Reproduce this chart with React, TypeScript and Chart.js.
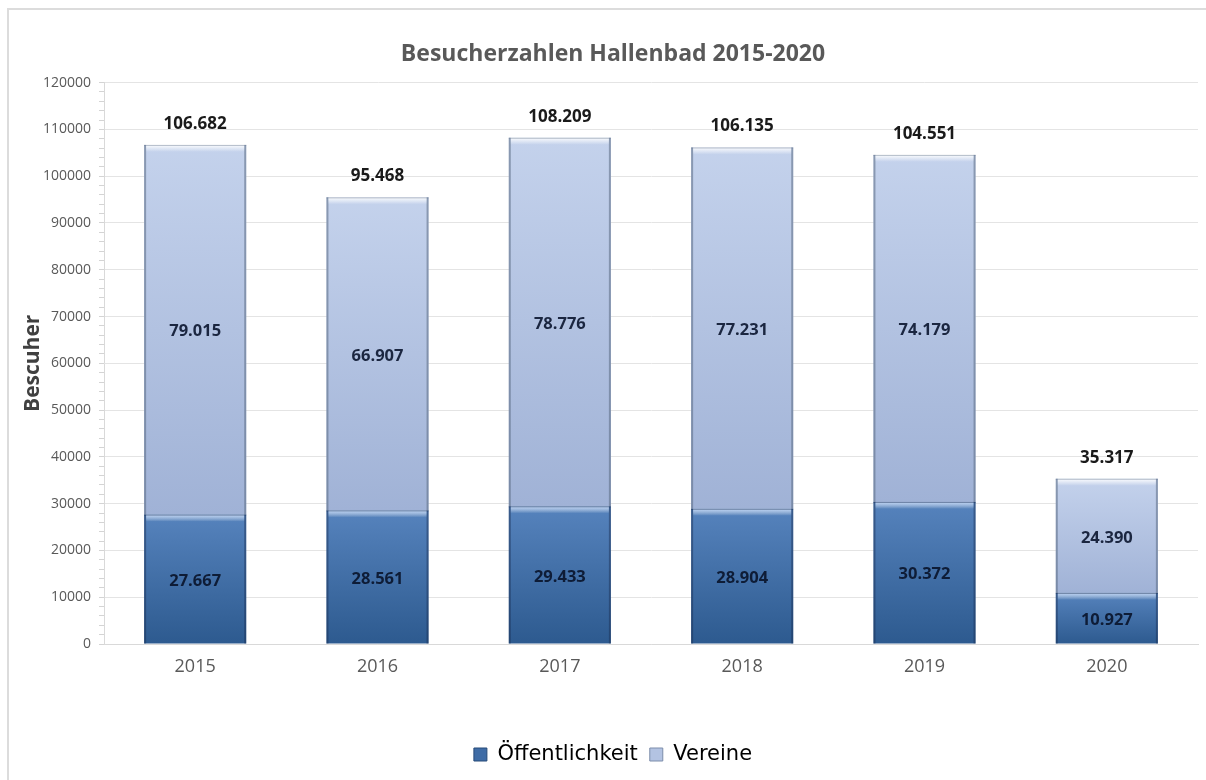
import React, { useEffect, useRef } from 'react';
import { Chart, registerables } from 'chart.js';

Chart.register(...registerables);

const years: string[] = ['2015', '2016', '2017', '2018', '2019', '2020'];
const oeffentlichkeit: number[] = [27667, 28561, 29433, 28904, 30372, 10927];
const vereine: number[] = [79015, 66907, 78776, 77231, 74179, 24390];
const seriesNames: string[] = ['Öffentlichkeit', 'Vereine'];
const chartTitle = 'Besucherzahlen Hallenbad 2015-2020';
const yAxisTitle = 'Bescuher';
const yMin = 0;
const yMax = 120000;
const yMajorStep = 10000;
const yMinorStep = 2000;

const totals: number[] = years.map((_, i) => oeffentlichkeit[i] + vereine[i]);

const FONT = '"Open Sans", "Noto Sans", sans-serif';
const LEGEND_FONT = '"DejaVu Sans", Verdana, sans-serif';

const fmt = (v: number) => String(Math.round(v)).replace(/\B(?=(\d{3})+(?!\d))/g, '.');

const segmentColor = (dsIndex: number) => (ctx: any) => {
  const chart = ctx.chart;
  const y = chart.scales && chart.scales.y;
  const fallback = dsIndex === 0 ? '#3f6ca6' : '#b3c3e2';
  if (!chart.chartArea || !y || ctx.type !== 'data') return fallback;
  const i = ctx.dataIndex;
  const base = dsIndex === 0 ? 0 : oeffentlichkeit[i];
  const top = base + (dsIndex === 0 ? oeffentlichkeit[i] : vereine[i]);
  const y0 = y.getPixelForValue(top);
  const y1 = y.getPixelForValue(base);
  if (!isFinite(y0) || !isFinite(y1) || y0 === y1) return fallback;
  const g = chart.ctx.createLinearGradient(0, y0, 0, y1);
  if (dsIndex === 0) {
    g.addColorStop(0, '#5683bd');
    g.addColorStop(1, '#2d5a8f');
  } else {
    g.addColorStop(0, '#c4d2ec');
    g.addColorStop(1, '#a0b2d6');
  }
  return g;
};

const decorPlugin = {
  id: 'decor',
  afterDatasetsDraw(chart: any) {
    const ctx = chart.ctx as CanvasRenderingContext2D;
    ctx.save();
    // bevel effect
    chart.data.datasets.forEach((_: any, di: number) => {
      const meta = chart.getDatasetMeta(di);
      meta.data.forEach((el: any) => {
        const { x, y, base, width } = el.getProps(['x', 'y', 'base', 'width'], true);
        const left = x - width / 2;
        const h = base - y;
        const edge = di === 0 ? 'rgba(25,45,80,0.45)' : 'rgba(90,105,130,0.55)';
        ctx.fillStyle = edge;
        ctx.fillRect(left, y, 2, h);
        ctx.fillRect(left + width - 2, y, 2, h);
        const hg = ctx.createLinearGradient(0, y, 0, y + 7);
        hg.addColorStop(0, di === 0 ? 'rgba(200,220,250,0.9)' : 'rgba(255,255,255,0.95)');
        hg.addColorStop(1, 'rgba(255,255,255,0)');
        ctx.fillStyle = hg;
        ctx.fillRect(left + 2, y, width - 4, 7);
        ctx.fillStyle = di === 0 ? 'rgba(30,50,85,0.5)' : 'rgba(110,125,150,0.5)';
        ctx.fillRect(left, y, width, 1);
      });
    });
    // segment labels
    ctx.textAlign = 'center';
    ctx.textBaseline = 'middle';
    chart.data.datasets.forEach((ds: any, di: number) => {
      const meta = chart.getDatasetMeta(di);
      meta.data.forEach((el: any, i: number) => {
        const { x, y, base } = el.getProps(['x', 'y', 'base'], true);
        ctx.font = `bold 16.5px ${FONT}`;
        ctx.fillStyle = di === 0 ? '#0e1c36' : '#1b2640';
        ctx.fillText(fmt(ds.data[i]), x, (y + base) / 2 + 2);
      });
    });
    // totals above bars
    const topMeta = chart.getDatasetMeta(chart.data.datasets.length - 1);
    topMeta.data.forEach((el: any, i: number) => {
      const { x, y } = el.getProps(['x', 'y'], true);
      ctx.font = `bold 17px ${FONT}`;
      ctx.fillStyle = '#1a1a1a';
      ctx.fillText(fmt(totals[i]), x, y - 21);
    });
    ctx.restore();
  },
};

export default function App() {
  const ref = useRef<HTMLCanvasElement | null>(null);

  useEffect(() => {
    if (!ref.current) return;
    const chart = new Chart(ref.current, {
      type: 'bar',
      data: {
        labels: years,
        datasets: [
          {
            label: seriesNames[0],
            data: oeffentlichkeit,
            backgroundColor: segmentColor(0),
            borderWidth: 0,
            barPercentage: 0.56,
            categoryPercentage: 1,
          },
          {
            label: seriesNames[1],
            data: vereine,
            backgroundColor: segmentColor(1),
            borderWidth: 0,
            barPercentage: 0.56,
            categoryPercentage: 1,
          },
        ],
      },
      options: {
        animation: false,
        responsive: false,
        maintainAspectRatio: false,
        layout: { padding: { left: 28, right: 8, top: 0, bottom: 5 } },
        plugins: {
          title: {
            display: true,
            text: chartTitle,
            color: '#595959',
            font: { family: FONT, size: 23, weight: 'bold' },
            padding: { top: 41, bottom: 14 },
          },
          legend: {
            position: 'bottom',
            labels: {
              color: '#595959',
              font: { family: LEGEND_FONT, size: 21 },
              boxWidth: 13,
              boxHeight: 13,
              padding: 12,
              generateLabels: () => [
                { text: seriesNames[0], fillStyle: '#3f6ca6', strokeStyle: '#274a78', lineWidth: 1, datasetIndex: 0 },
                { text: seriesNames[1], fillStyle: '#b3c3e2', strokeStyle: '#7d8dab', lineWidth: 1, datasetIndex: 1 },
              ] as any,
            },
          },
          tooltip: { enabled: false },
        },
        scales: {
          x: {
            stacked: true,
            grid: { display: false, drawTicks: false },
            border: { display: true, color: '#d9d9d9', width: 1 },
            ticks: { color: '#595959', font: { family: FONT, size: 18 }, padding: 12 },
            afterFit: (scale: any) => {
              scale.height = 88;
            },
          },
          y: {
            stacked: true,
            min: yMin,
            max: yMax,
            border: { display: true, color: '#d9d9d9', width: 1 },
            grid: {
              color: (c: any) => (c.tick && c.tick.value % yMajorStep === 0 ? '#e4e4e4' : 'rgba(0,0,0,0)'),
              tickColor: '#d4d4d4',
              tickLength: 5,
              drawTicks: true,
            },
            ticks: {
              stepSize: yMinorStep,
              autoSkip: false,
              color: '#595959',
              font: { family: FONT, size: 14 },
              padding: 8,
              callback: (v: any) => (Number(v) % yMajorStep === 0 ? String(v) : ''),
            },
            title: {
              display: true,
              text: yAxisTitle,
              color: '#404040',
              font: { family: FONT, size: 21, weight: 'bold' },
              padding: { top: -8, bottom: 0 },
            },
            afterFit: (scale: any) => {
              scale.width = 76;
            },
          },
        },
      },
      plugins: [decorPlugin],
    });
    return () => chart.destroy();
  }, []);

  return (
    <div style={{ position: 'fixed', left: 0, top: 0, width: 1206, height: 780, background: '#fff' }}>
      <div
        style={{
          position: 'absolute',
          left: 7,
          top: 8,
          right: 0,
          bottom: 0,
          borderTop: '2px solid #dcdcdc',
          borderLeft: '2px solid #dcdcdc',
        }}
      />
      <canvas ref={ref} width={1206} height={780} style={{ position: 'absolute', left: 0, top: 0, width: 1206, height: 780 }} />
    </div>
  );
}
